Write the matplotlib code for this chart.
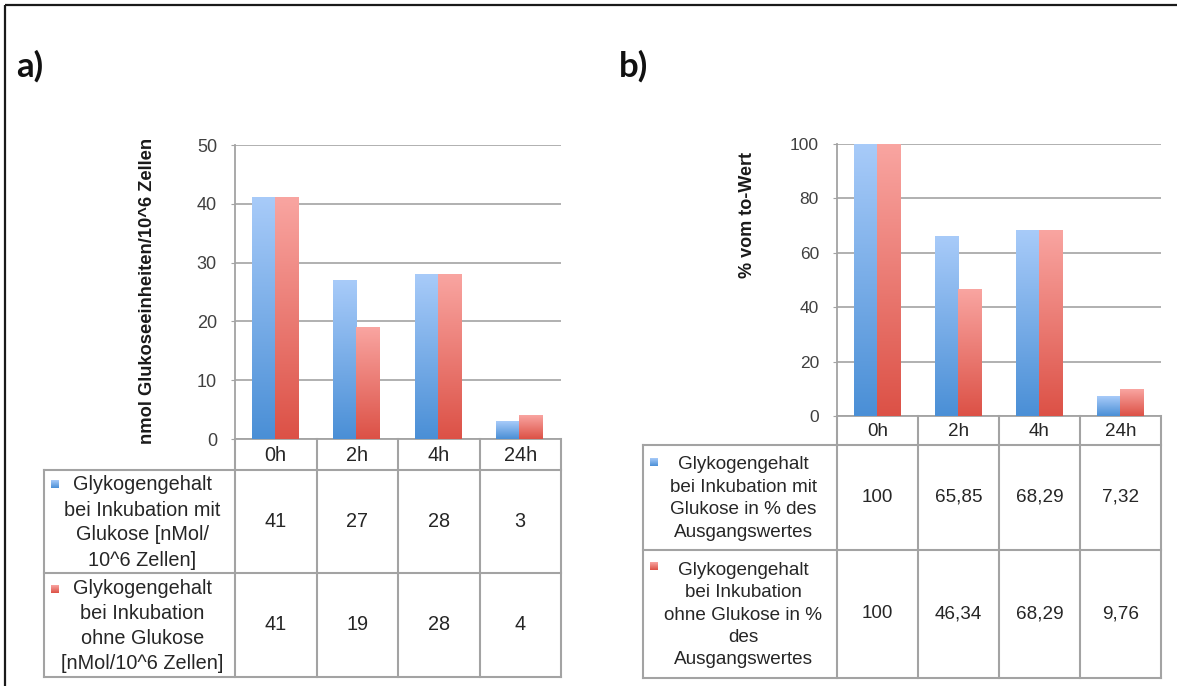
import numpy as np
import matplotlib
matplotlib.use("Agg")
import matplotlib.pyplot as plt
from matplotlib.colors import LinearSegmentedColormap
from matplotlib.transforms import blended_transform_factory

plt.rcParams["font.family"] = ["Liberation Sans", "DejaVu Sans"]

# Daten
zeiten = ["0h", "2h", "4h", "24h"]
a_mit = [41, 27, 28, 3]
a_ohne = [41, 19, 28, 4]
b_mit = [100, 65.85, 68.29, 7.32]
b_ohne = [100, 46.34, 68.29, 9.76]

a_labels = ["Glykogengehalt\nbei Inkubation mit\nGlukose [nMol/\n10^6 Zellen]",
            "Glykogengehalt\nbei Inkubation\nohne Glukose\n[nMol/10^6 Zellen]"]
b_labels = ["Glykogengehalt\nbei Inkubation mit\nGlukose in % des\nAusgangswertes",
            "Glykogengehalt\nbei Inkubation\nohne Glukose in %\ndes\nAusgangswertes"]
a_ylabel = "nmol Glukoseeinheiten/10^6 Zellen"
b_ylabel = "% vom to-Wert"

W, H = 1177, 686
fig = plt.figure(figsize=(W / 100, H / 100), dpi=100)

# Overlay in Pixelkoordinaten fuer Tabelle, Rahmen, Beschriftungen
ov = fig.add_axes([0, 0, 1, 1], zorder=5)
ov.set_xlim(0, W)
ov.set_ylim(H, 0)
ov.axis("off")
ov.patch.set_alpha(0)

blau = LinearSegmentedColormap.from_list("blau", ["#4a8fd6", "#a8cbf9"])
rot = LinearSegmentedColormap.from_list("rot", ["#dc5146", "#f9a5a1"])
grad = np.linspace(0, 1, 256).reshape(-1, 1)
linie = "#a3a3a3"
txt = "#262626"


def fmt(v):
    return f"{v:g}".replace(".", ",")


def verlauf(ax, bars, cmap):
    for b in bars:
        x0, w, h = b.get_x(), b.get_width(), b.get_height()
        ax.imshow(grad, extent=[x0, x0 + w, 0, h], origin="lower",
                  aspect="auto", cmap=cmap, zorder=3)


def panel(box, ymax, ystep, mit, ohne, labels, rows, tab_left, fs, fs_tick,
          marker_y, ls):
    left, right, top, zero = box
    ax = fig.add_axes([left / W, 1 - zero / H, (right - left) / W, (zero - top) / H])
    x = np.arange(len(zeiten)) + 0.49
    b1 = ax.bar(x - 0.142, mit, 0.285, color="none")
    b2 = ax.bar(x + 0.142, ohne, 0.285, color="none")
    verlauf(ax, b1, blau)
    verlauf(ax, b2, rot)
    ax.set_xlim(0, len(zeiten))
    ax.set_ylim(0, ymax)
    ax.set_yticks(np.arange(0, ymax + 1, ystep))
    ax.set_xticks([])
    ax.yaxis.grid(True, color=linie, lw=1.2)
    ax.set_axisbelow(True)
    for s in ["top", "right"]:
        ax.spines[s].set_visible(False)
    for s in ["left", "bottom"]:
        ax.spines[s].set_color(linie)
        ax.spines[s].set_linewidth(1.3)
    ax.tick_params(axis="y", length=3, color=linie, pad=10,
                   labelsize=fs_tick, labelcolor="#404040")

    # Tabelle unter dem Diagramm
    tr = blended_transform_factory(ax.transData, ov.transData)
    r0, r1, r2, r3 = rows
    n = len(zeiten)
    kw = dict(color=linie, lw=1.5, solid_capstyle="projecting")
    ov.plot([left, right], [r1, r1], **kw)
    ov.plot([tab_left, left], [r1, r1], **kw)
    for yy in (r2, r3):
        ov.plot([tab_left, right], [yy, yy], **kw)
    ov.plot([tab_left, tab_left], [r1, r3], **kw)
    for i in range(n + 1):
        ax_x = ax.transData.transform((i, 0))[0]
        px = ov.transData.inverted().transform((ax_x, 0))[0]
        ov.plot([px, px], [r0, r3], **kw)
    for i, z in enumerate(zeiten):
        ov.text(i + 0.5, (r0 + r1) / 2 + 1, z, transform=tr, ha="center",
                va="center", fontsize=fs, color=txt)
        ov.text(i + 0.5, (r1 + r2) / 2, fmt(mit[i]), transform=tr,
                ha="center", va="center", fontsize=fs, color=txt)
        ov.text(i + 0.5, (r2 + r3) / 2, fmt(ohne[i]), transform=tr,
                ha="center", va="center", fontsize=fs, color=txt)
    cx = (tab_left + left) / 2 + 3
    for lab, (ya, yb), cmap, my in zip(labels, [(r1, r2), (r2, r3)],
                                      [blau, rot], marker_y):
        ov.text(cx, (ya + yb) / 2 + 1, lab, ha="center", va="center",
                fontsize=fs, color=txt, linespacing=ls)
        ov.imshow(grad, extent=[tab_left + 7, tab_left + 15, my + 8, my],
                  origin="lower", aspect="auto", cmap=cmap, zorder=6)
    ov.set_xlim(0, W)
    ov.set_ylim(H, 0)
    return ax


panel((235, 561, 145, 439), 50, 10, a_mit, a_ohne, a_labels,
      (439, 470, 573, 677), 44, 14.3, 13, (480, 585), 1.4)
panel((837, 1161, 144, 416), 100, 20, b_mit, b_ohne, b_labels,
      (416, 445, 550, 678), 643, 13.6, 12.5, (458, 562), 1.42)

ov.text(147, 291, a_ylabel, rotation=90, ha="center", va="center",
        fontsize=13.2, fontweight="bold", color="#1a1a1a")
ov.text(748, 215, b_ylabel, rotation=90, ha="center", va="center",
        fontsize=13, fontweight="bold", color="#1a1a1a")
ov.text(16, 66, "a)", ha="left", va="center", fontsize=25,
        fontweight="bold", family=["Lato", "DejaVu Sans"], color="#111111")
ov.text(619, 66, "b)", ha="left", va="center", fontsize=25,
        fontweight="bold", family=["Lato", "DejaVu Sans"], color="#111111")

# Rahmen oben und links
ov.plot([5, W], [5, 5], color="#1a1a1a", lw=1.6, solid_capstyle="butt")
ov.plot([5, 5], [5, H], color="#1a1a1a", lw=1.6, solid_capstyle="butt")
ov.set_xlim(0, W)
ov.set_ylim(H, 0)

fig.savefig("out.png", dpi=100)
